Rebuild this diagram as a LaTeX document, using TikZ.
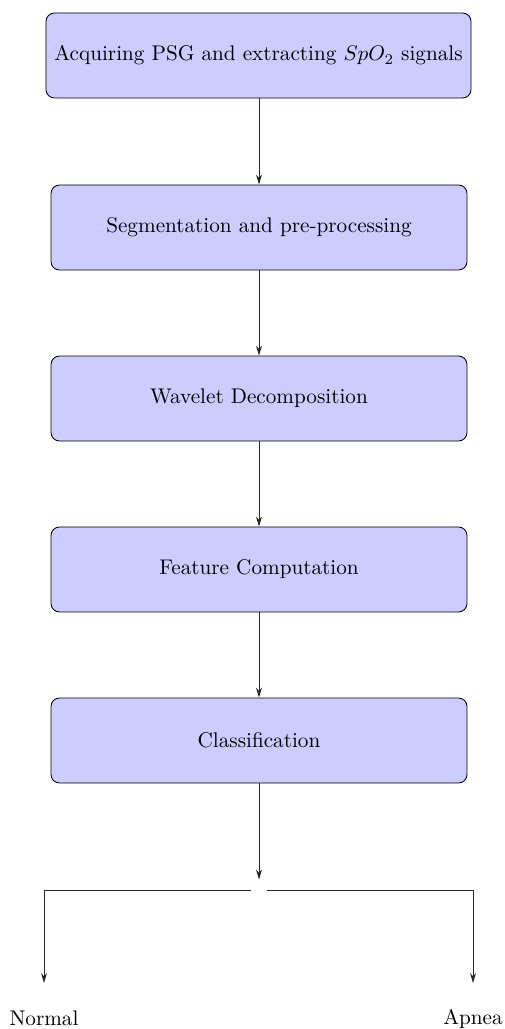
\documentclass[tikz,border=0pt]{standalone}
\usetikzlibrary{arrows.meta}
\begin{document}
\begin{tikzpicture}[x=0.4717pt,y=-0.4717pt,
  stepbox/.style={draw=black, fill=blue!20, rounded corners=4pt, minimum height=40.1pt, align=center, inner sep=3.8pt},
  conn/.style={-{Stealth[length=4.7pt,width=2.8pt]}, draw=black!85, line width=0.45pt},
  lbl/.style={inner sep=0pt}]
\useasboundingbox (0,0) rectangle (504,1029);
\node[stepbox, minimum width=200.5pt] (b1) at (258.5,55.5) {Acquiring PSG and extracting $SpO_2$ signals};
\node[stepbox, minimum width=196.2pt] (b2) at (259,227.5) {Segmentation and pre-processing};
\node[stepbox, minimum width=196.2pt] (b3) at (259,398.5) {Wavelet Decomposition};
\node[stepbox, minimum width=196.2pt] (b4) at (259,569.5) {Feature Computation};
\node[stepbox, minimum width=196.2pt] (b5) at (259,740.5) {Classification};
\node[inner sep=0pt, minimum width=7.1pt, minimum height=4.7pt] (split) at (259,885) {};
\node[lbl] (normal) at (44,1018.5) {Normal};
\node[lbl] (apnea) at (473,1018.5) {Apnea};
\coordinate (nl) at (44,983);
\coordinate (ar) at (473,983);
\draw[conn] (b1.south -| b2.north) -- (b2.north);
\draw[conn] (b2) -- (b3);
\draw[conn] (b3) -- (b4);
\draw[conn] (b4) -- (b5);
\draw[conn] (b5) -- (split.north);
\draw[conn] (split.south west) -| (nl);
\draw[conn] (split.south east) -| (ar);
\end{tikzpicture}
\end{document}
